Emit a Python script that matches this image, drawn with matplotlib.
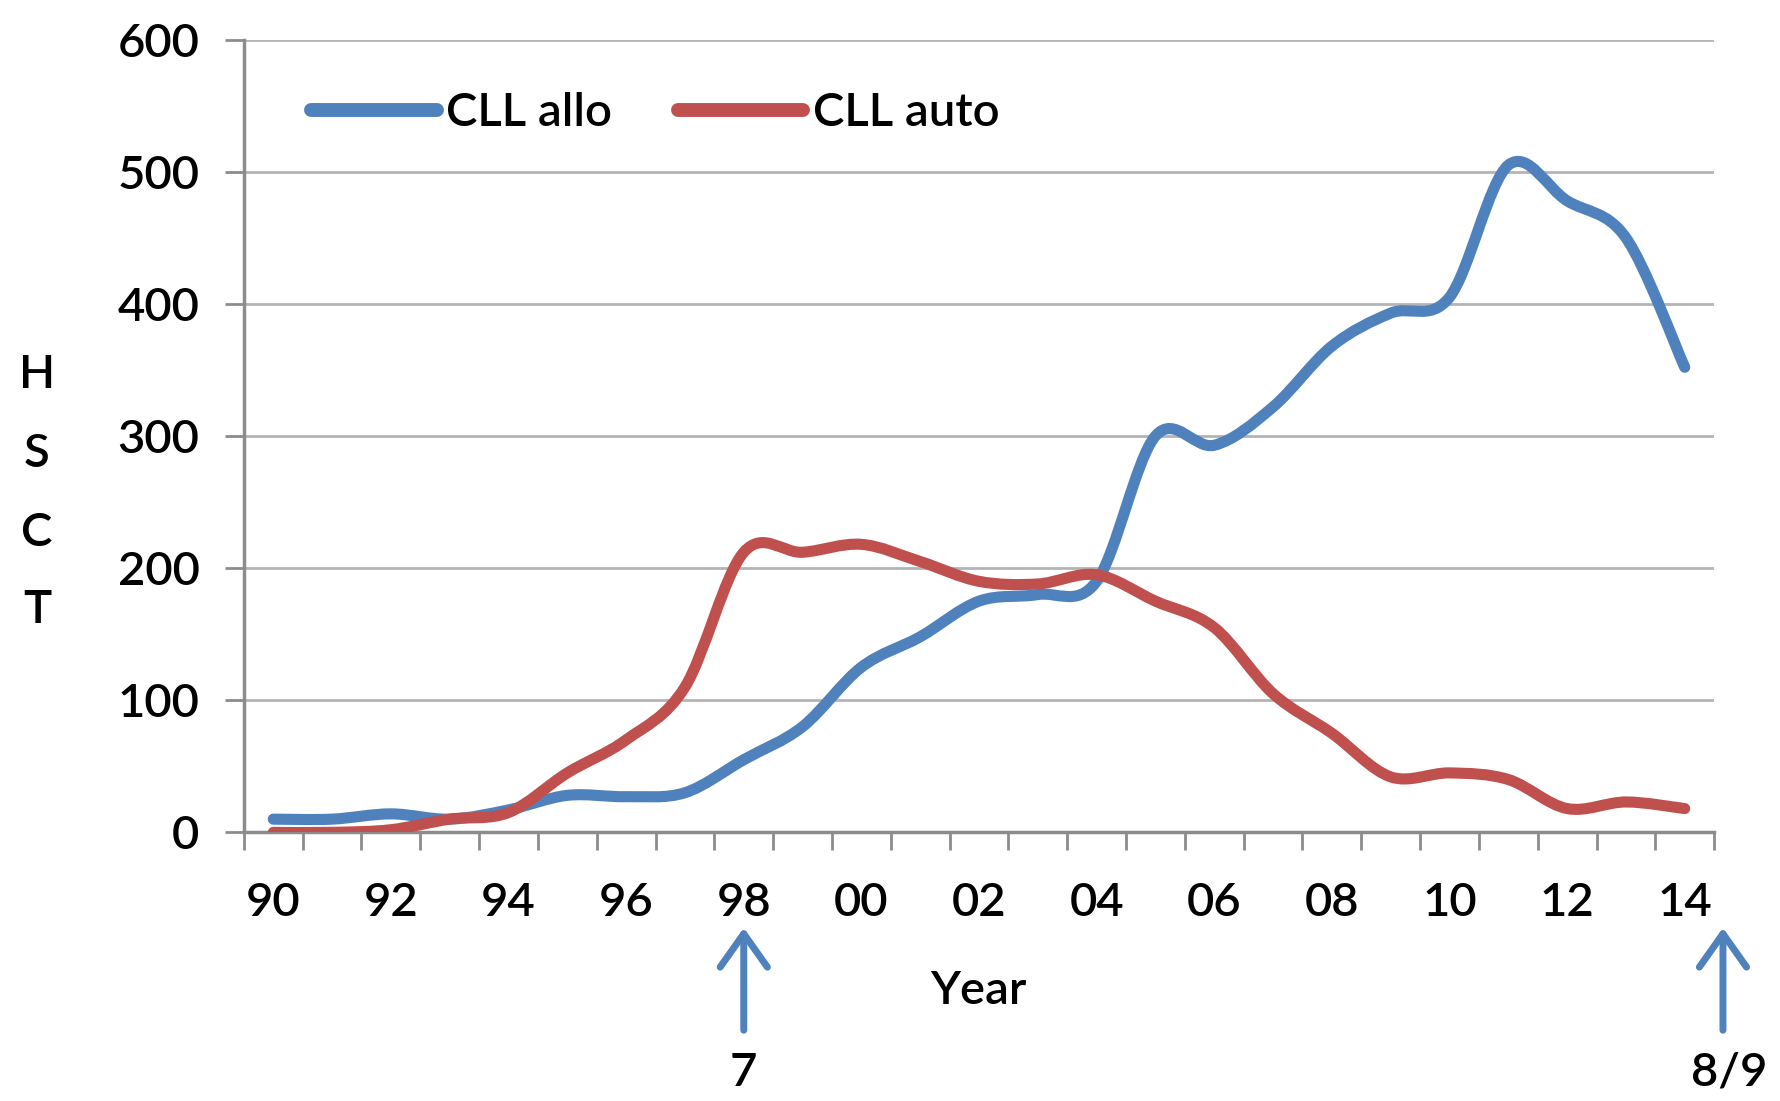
import matplotlib
matplotlib.use("Agg")
import matplotlib.pyplot as plt
from matplotlib.path import Path
from matplotlib.patches import PathPatch
from matplotlib.lines import Line2D

plt.rcParams['font.family'] = ['Lato', 'DejaVu Sans']
plt.rcParams['font.weight'] = 'semibold'

years = ["90", "91", "92", "93", "94", "95", "96", "97", "98", "99", "00", "01", "02",
         "03", "04", "05", "06", "07", "08", "09", "10", "11", "12", "13", "14"]
cll_allo = [10, 10, 14, 10, 17, 28, 27, 30, 55, 80, 125, 148, 175, 180, 190,
            300, 293, 322, 368, 393, 405, 505, 478, 450, 352]
cll_auto = [0, 0, 2, 10, 15, 45, 70, 110, 212, 212, 218, 205, 190, 188, 195,
            175, 155, 105, 75, 42, 45, 40, 18, 23, 18]
arrow_labels = ["7", "8/9"]

blue = "#4F81BD"
red = "#C0504D"
grid_c = "#b4b4b4"
axis_c = "#8c8c8c"


def smooth_path(ys):
    # excel style smoothed line: cubic bezier through every point
    pts = list(enumerate(ys))
    verts = [pts[0]]
    codes = [Path.MOVETO]
    n = len(pts)
    for i in range(n - 1):
        p0 = pts[max(i - 1, 0)]
        p1 = pts[i]
        p2 = pts[i + 1]
        p3 = pts[min(i + 2, n - 1)]
        c1 = (p1[0] + (p2[0] - p0[0]) / 6, p1[1] + (p2[1] - p0[1]) / 6)
        c2 = (p2[0] - (p3[0] - p1[0]) / 6, p2[1] - (p3[1] - p1[1]) / 6)
        verts += [c1, c2, p2]
        codes += [Path.CURVE4] * 3
    return Path(verts, codes)


fig = plt.figure(figsize=(17.8, 11.01), dpi=100)
ax = fig.add_axes([0.137, 0.244, 0.826, 0.72])

for ys, c in [(cll_allo, blue), (cll_auto, red)]:
    ax.add_patch(PathPatch(smooth_path(ys), fill=False, edgecolor=c, lw=8,
                           capstyle='round', joinstyle='round', zorder=3))

ax.set_xlim(-0.5, len(years) - 0.5)
ax.set_ylim(0, 600)
ax.set_yticks(range(0, 601, 100))
ax.yaxis.grid(True, color=grid_c, lw=2)
ax.set_axisbelow(True)

ax.set_xticks(range(0, len(years), 2))
ax.set_xticklabels(years[::2])
ax.set_xticks([i - 0.5 for i in range(len(years) + 1)], minor=True)
ax.tick_params(axis='x', which='major', length=0, pad=36, labelsize=34)
ax.tick_params(axis='x', which='minor', length=13, width=2, color=axis_c)
ax.tick_params(axis='y', length=14, width=2, color=axis_c, pad=18, labelsize=34)

for s in ['top', 'right']:
    ax.spines[s].set_visible(False)
for s in ['left', 'bottom']:
    ax.spines[s].set_color(axis_c)
    ax.spines[s].set_linewidth(2.5)

handles = [Line2D([], [], color=blue, lw=10, solid_capstyle='round'),
           Line2D([], [], color=red, lw=10, solid_capstyle='round')]
ax.legend(handles, ["CLL allo", "CLL auto"], loc='center left', ncol=2,
          bbox_to_anchor=(0.046, 0.907), frameon=False, fontsize=34,
          borderaxespad=0, borderpad=0, handlelength=2.65, handletextpad=0.2,
          columnspacing=1.4)

for ch, yp in zip("HSCT", [375, 454, 533, 610]):
    fig.text(37 / 1780, 1 - yp / 1101, ch, fontsize=34, ha='center', va='center')

fig.text(978 / 1780, 1 - 991 / 1101, "Year", fontsize=34, ha='center', va='center')

# arrows under the axis marking 98 and 14
for xd, lab, ha, dx in [(8, arrow_labels[0], 'center', 0), (24.65, arrow_labels[1], 'left', -0.55)]:
    ax.annotate("", xy=(xd, 1 - 925 / 1101), xytext=(xd, 1 - 1033 / 1101),
                xycoords=('data', 'figure fraction'), textcoords=('data', 'figure fraction'),
                arrowprops=dict(arrowstyle='->,head_length=24,head_width=17',
                                mutation_scale=1, color=blue, lw=5),
                annotation_clip=False)
    ax.annotate(lab, xy=(xd + dx, 1 - 1073 / 1101), xycoords=('data', 'figure fraction'),
                fontsize=34, ha=ha, va='center', annotation_clip=False)

fig.savefig("out.png", dpi=100)
